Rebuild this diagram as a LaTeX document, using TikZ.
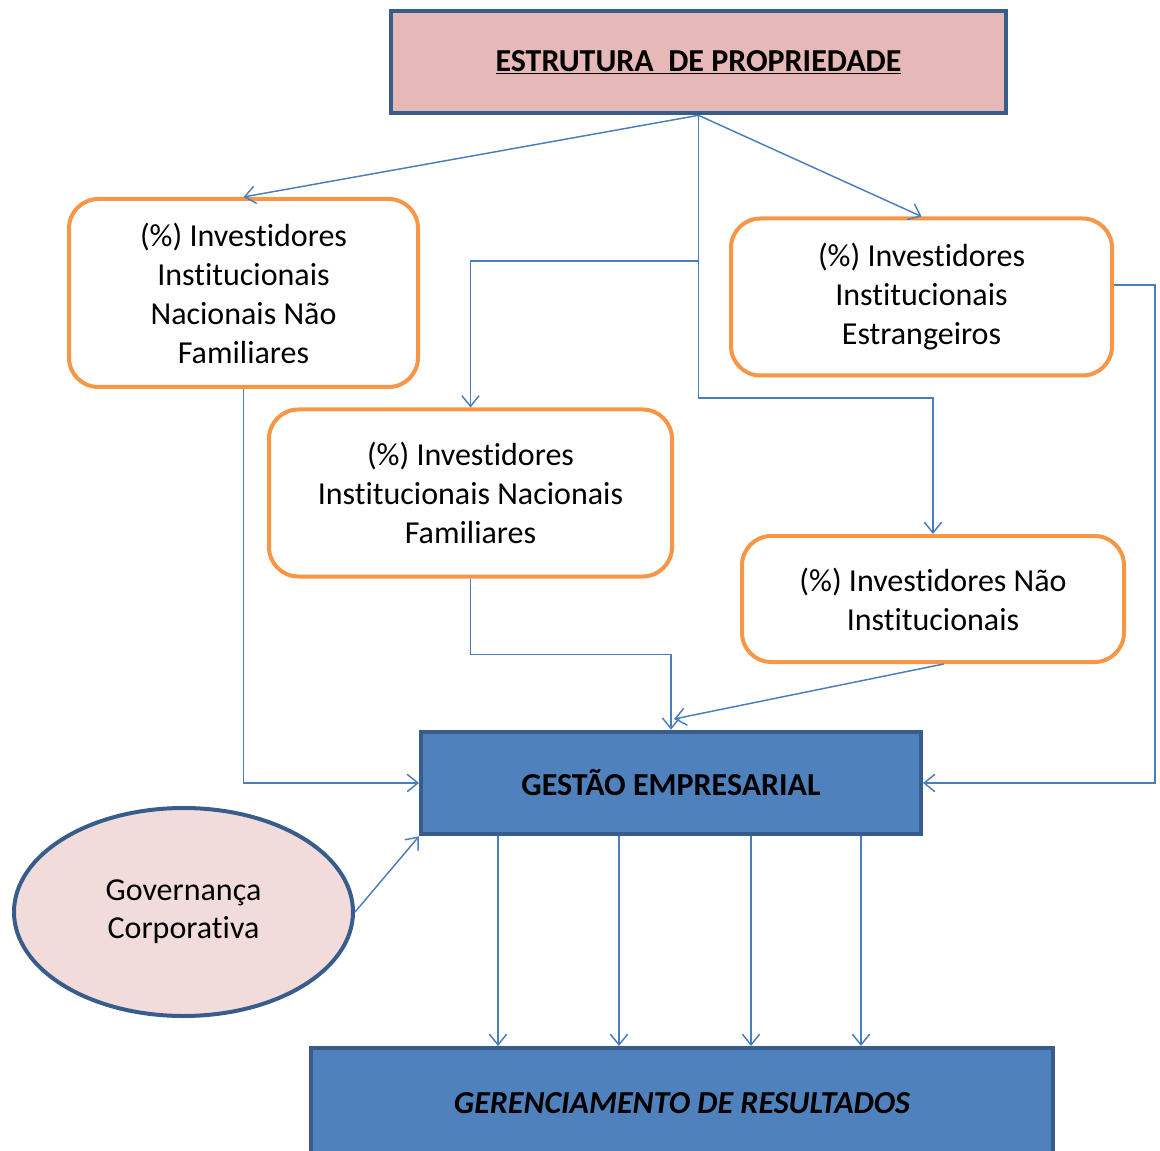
\documentclass[tikz,border=0pt]{standalone}
\usepackage{fontspec}
\setmainfont[Ligatures=NoCommon]{Carlito}
\usetikzlibrary{arrows.meta,shapes.geometric}
\definecolor{orng}{HTML}{F79646}
\definecolor{dkblue}{HTML}{385D8A}
\definecolor{mdblue}{HTML}{4F81BD}
\definecolor{lnblue}{HTML}{4A7EBB}
\definecolor{rosa}{HTML}{E6B8B7}
\definecolor{rosinha}{HTML}{F2DCDB}

\begin{document}
\begin{tikzpicture}[x=0.75pt,y=-0.75pt,
  invbox/.style={draw=orng, line width=3pt, rounded corners=22pt, fill=white, align=center, font=\fontsize{24}{29.25}\selectfont},
  mainbox/.style={draw=dkblue, line width=3pt, fill=mdblue, align=center, font=\fontsize{24}{29.25}\selectfont\bfseries},
  conn/.style={draw=lnblue, line width=1.1pt, -{Straight Barb[length=8pt,width=13pt]}}]
\useasboundingbox (0,0) rectangle (1160,1151);

\node[mainbox, fill=rosa, minimum width=461pt, minimum height=77pt] at (698.5,62) (estr) {\underline{ESTRUTURA\ \ DE PROPRIEDADE}};

\node[invbox, minimum width=261.75pt, minimum height=141pt] at (243.5,293) (nnf) {(\%) Investidores\\Institucionais\\Nacionais Não\\Familiares};
\node[invbox, minimum width=285.75pt, minimum height=117.75pt] at (921.5,297) (estrang) {(\%) Investidores\\Institucionais\\Estrangeiros};
\node[invbox, minimum width=302.25pt, minimum height=125.25pt] at (470.5,493) (nfam) {(\%) Investidores\\Institucionais Nacionais\\Familiares};
\node[invbox, minimum width=286.5pt, minimum height=94.5pt] at (933,599) (ninst) {(\%) Investidores Não\\Institucionais};

\node[mainbox, minimum width=375pt, minimum height=77pt] at (671,783) (gest) {GESTÃO EMPRESARIAL};
\node[mainbox, minimum width=556pt, minimum height=82pt, font=\fontsize{24}{29.25}\selectfont\bfseries\itshape] at (682,1103) (ger) {GERENCIAMENTO DE RESULTADOS};

\node[draw=dkblue, line width=3pt, fill=rosinha, ellipse, minimum width=254.25pt, minimum height=156pt, inner sep=0pt, align=center, font=\fontsize{24}{28.5}\selectfont] at (183.5,912) (gov) {Governança\\Corporativa};

\coordinate (j1) at (698.5,261);
\coordinate (j2) at (698.5,398);
\coordinate (gt) at (674,719);

\draw[conn] (estr.south) -- (nnf.north);
\draw[conn] (estr.south) -- (estrang.north);
\draw[conn] (estr.south) -- (j1) -| (nfam.north);
\draw[conn] (j1) -- (j2) -| (ninst.north);

\draw[conn] (nnf.south) |- (gest.west);
\draw[conn] (nfam.south) -- ++(0,76) -| (gest.north);
\draw[conn] ([xshift=8pt]ninst.south) -- (gt);
\draw[conn] ([yshift=9pt]estrang.east) -- ++(41,0) |- (gest.east);
\draw[conn] (gov.east) -- (gest.south west);

\foreach \xx in {498,619,751,861}
  \draw[conn] (\xx,836) -- (\xx,1046);
\end{tikzpicture}
\end{document}
